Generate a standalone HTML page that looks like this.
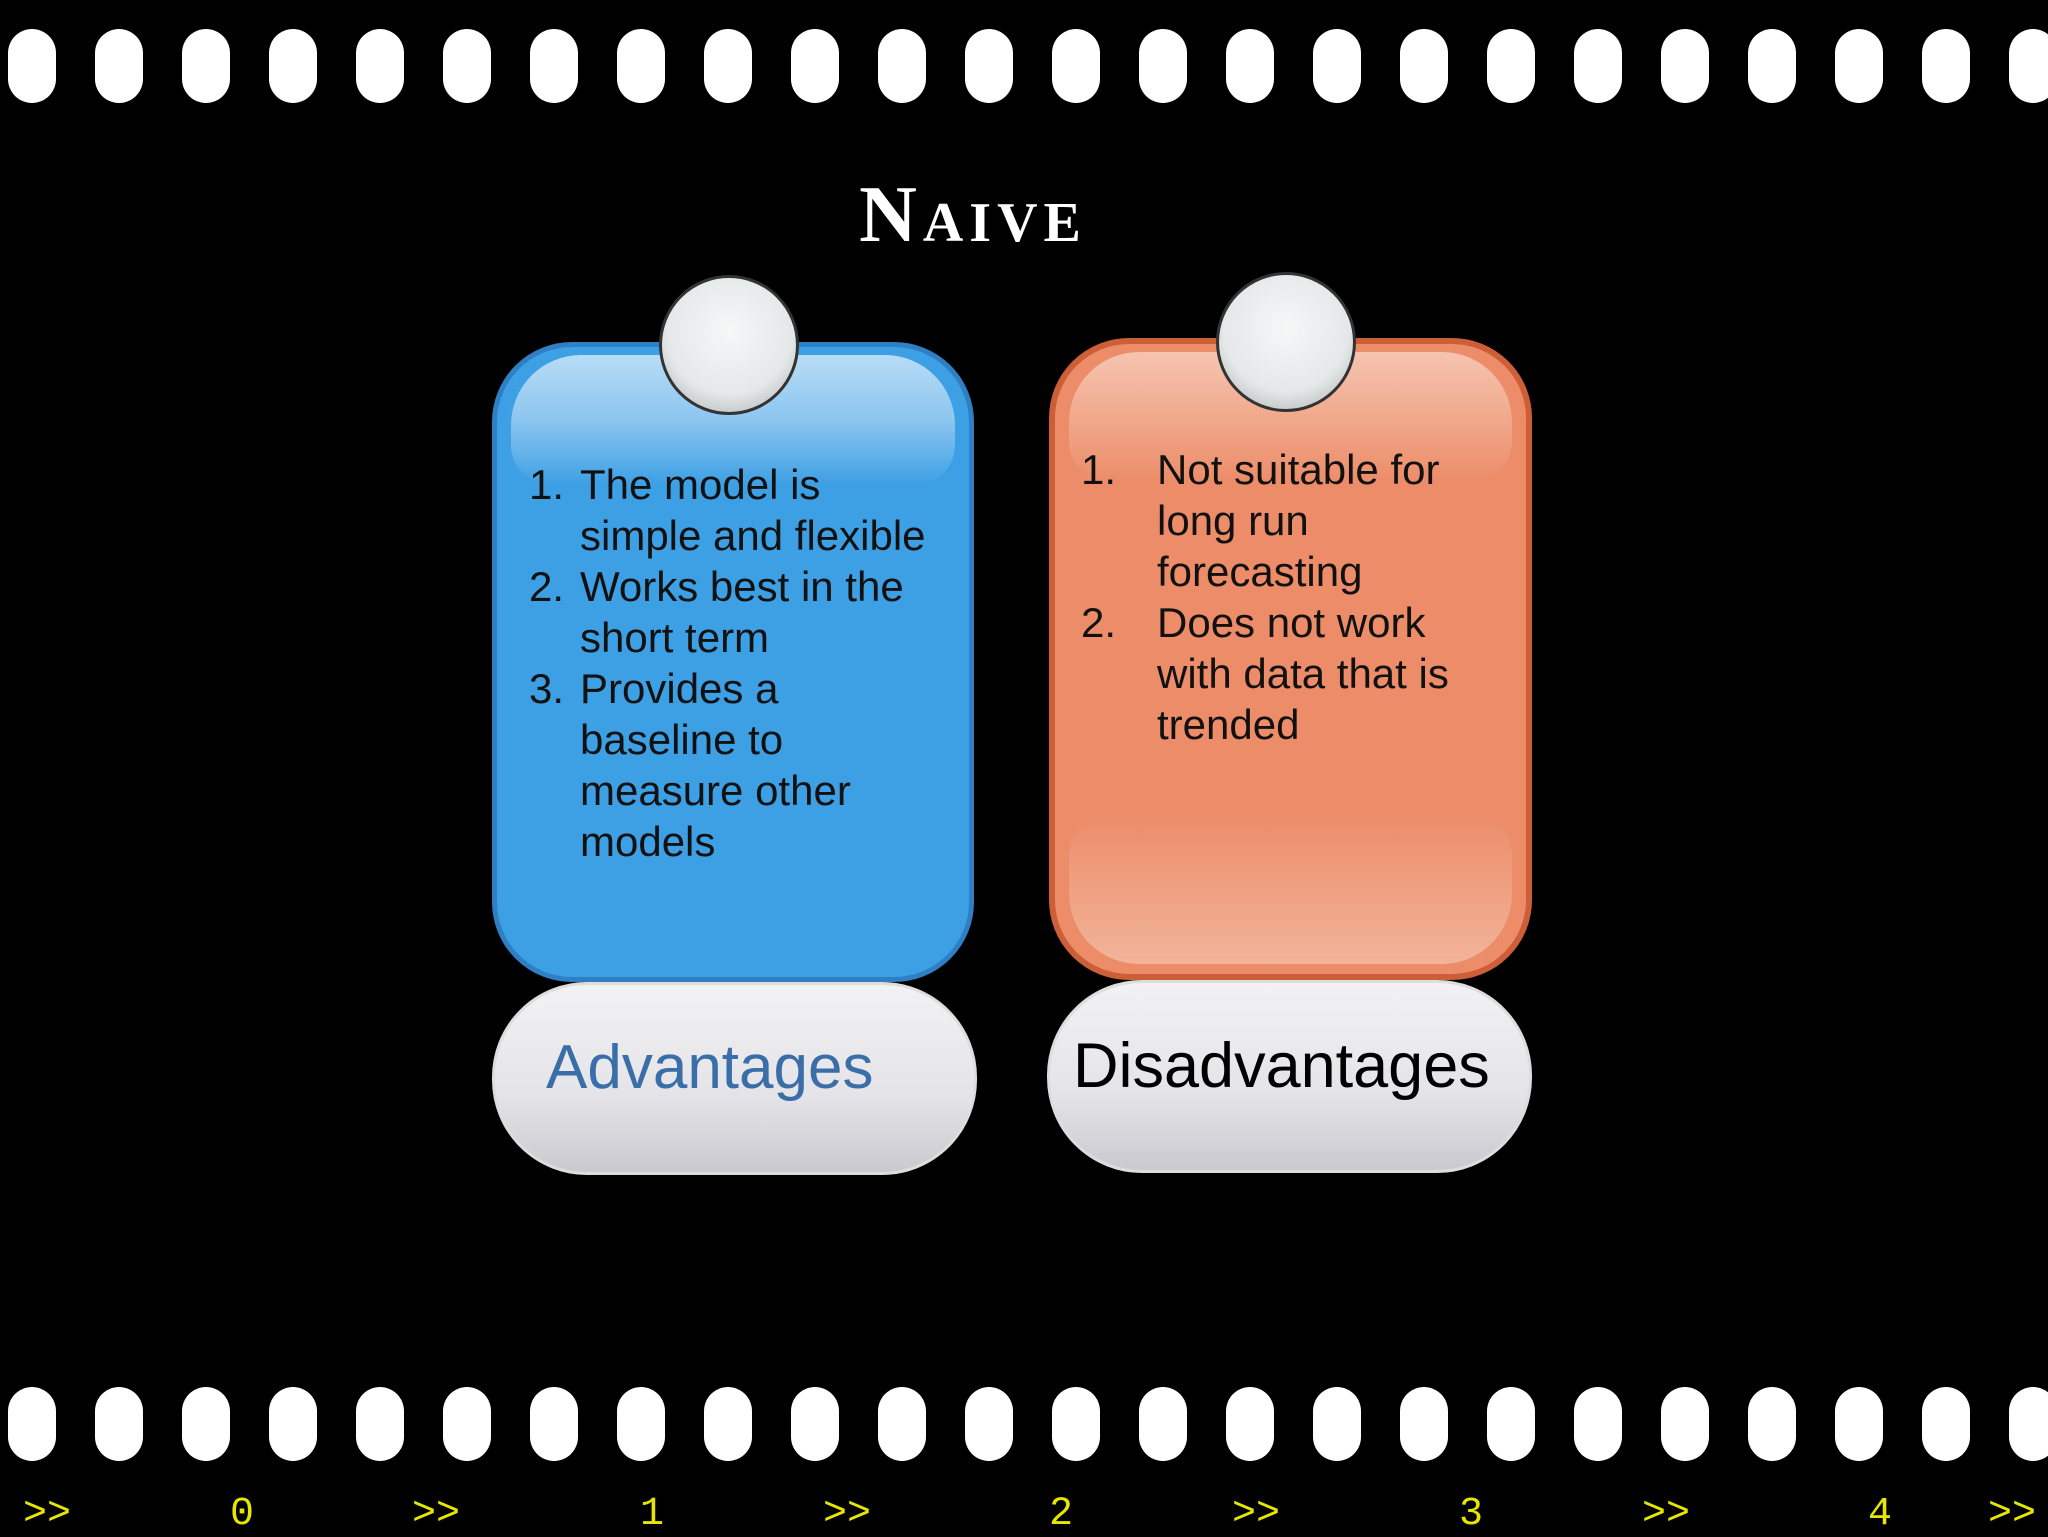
<!DOCTYPE html>
<html><head><style>
body{margin:0;width:2048px;height:1536px;background:#000;position:relative;overflow:hidden;font-family:"Liberation Sans",sans-serif}
.h{position:absolute;width:48px;height:74px;border-radius:24px;background:#fff}
.card{position:absolute;border-radius:80px;box-sizing:border-box}
.gl{position:absolute;left:14px;right:14px;top:8px;height:130px;border-radius:70px 70px 40px 40px}
.ball{position:absolute;width:140px;height:140px;border-radius:50%;border:3px solid #333;box-sizing:border-box;background:radial-gradient(circle at 50% 40%,#f6f8f8 0%,#e4e8e8 60%,#c4c8c8 80%,#9a9ea0 100%)}
.pill{position:absolute;border-radius:95px;box-sizing:border-box;background:linear-gradient(#f2f2f4,#e4e4e8 60%,#c9c9cf);border:3px solid #ddd}
.t{position:absolute;font-size:42px;color:#111;line-height:51px;white-space:nowrap}
.y{position:absolute;top:1492px;font-family:"Liberation Mono",monospace;font-size:40px;color:#e6e600}
</style></head><body>
<div id="holes"></div>
<script>
var s='';for(var i=0;i<24;i++){var x=8+i*87;s+='<div class="h" style="left:'+x+'px;top:29px"></div><div class="h" style="left:'+x+'px;top:1387px"></div>';}document.getElementById('holes').innerHTML=s;
</script>
<div style="position:absolute;left:0;width:1946px;top:170px;text-align:center;font-family:'Liberation Serif',serif;font-weight:bold;font-size:80px;letter-spacing:6px;color:#fff;font-variant:small-caps">Naive</div>

<div class="card" style="left:492px;top:342px;width:482px;height:640px;background:#3d9fe4;border:5px solid #2f7fc4">
<div class="gl" style="background:linear-gradient(#b8dcf6,#8cc6f0 50%,#3d9fe4)"></div></div>
<div class="card" style="left:1049px;top:338px;width:483px;height:642px;background:#ec8c68;border:6px solid #cc5e38">
<div class="gl" style="background:linear-gradient(#f6c4b0,#f0a486 60%,#ec8c68)"></div>
<div style="position:absolute;left:14px;right:14px;bottom:10px;height:150px;border-radius:40px 40px 70px 70px;background:linear-gradient(#ec8c68,#f2b49a)"></div></div>
<div class="ball" style="left:659px;top:275px"></div>
<div class="ball" style="left:1216px;top:272px"></div>

<div class="t" style="left:529px;top:459px">1.</div><div class="t" style="left:580px;top:459px">The model is<br>simple and flexible</div>
<div class="t" style="left:529px;top:561px">2.</div><div class="t" style="left:580px;top:561px">Works best in the<br>short term</div>
<div class="t" style="left:529px;top:663px">3.</div><div class="t" style="left:580px;top:663px">Provides a<br>baseline to<br>measure other<br>models</div>

<div class="t" style="left:1081px;top:444px">1.</div><div class="t" style="left:1157px;top:444px">Not suitable for<br>long run<br>forecasting</div>
<div class="t" style="left:1081px;top:597px">2.</div><div class="t" style="left:1157px;top:597px">Does not work<br>with data that is<br>trended</div>

<div class="pill" style="left:492px;top:982px;width:485px;height:193px"></div>
<div class="pill" style="left:1047px;top:980px;width:485px;height:193px"></div>
<div style="position:absolute;left:546px;top:1032px;font-size:62px;color:#3a6ea8">Advantages</div>
<div style="position:absolute;left:1073px;top:1030px;font-size:63px;color:#000">Disadvantages</div>

<div class="y" style="left:23px">&gt;&gt;</div><div class="y" style="left:230px">0</div>
<div class="y" style="left:412px">&gt;&gt;</div><div class="y" style="left:640px">1</div>
<div class="y" style="left:823px">&gt;&gt;</div><div class="y" style="left:1049px">2</div>
<div class="y" style="left:1232px">&gt;&gt;</div><div class="y" style="left:1459px">3</div>
<div class="y" style="left:1642px">&gt;&gt;</div><div class="y" style="left:1868px">4</div>
<div class="y" style="left:1988px">&gt;&gt;</div>
</body></html>
